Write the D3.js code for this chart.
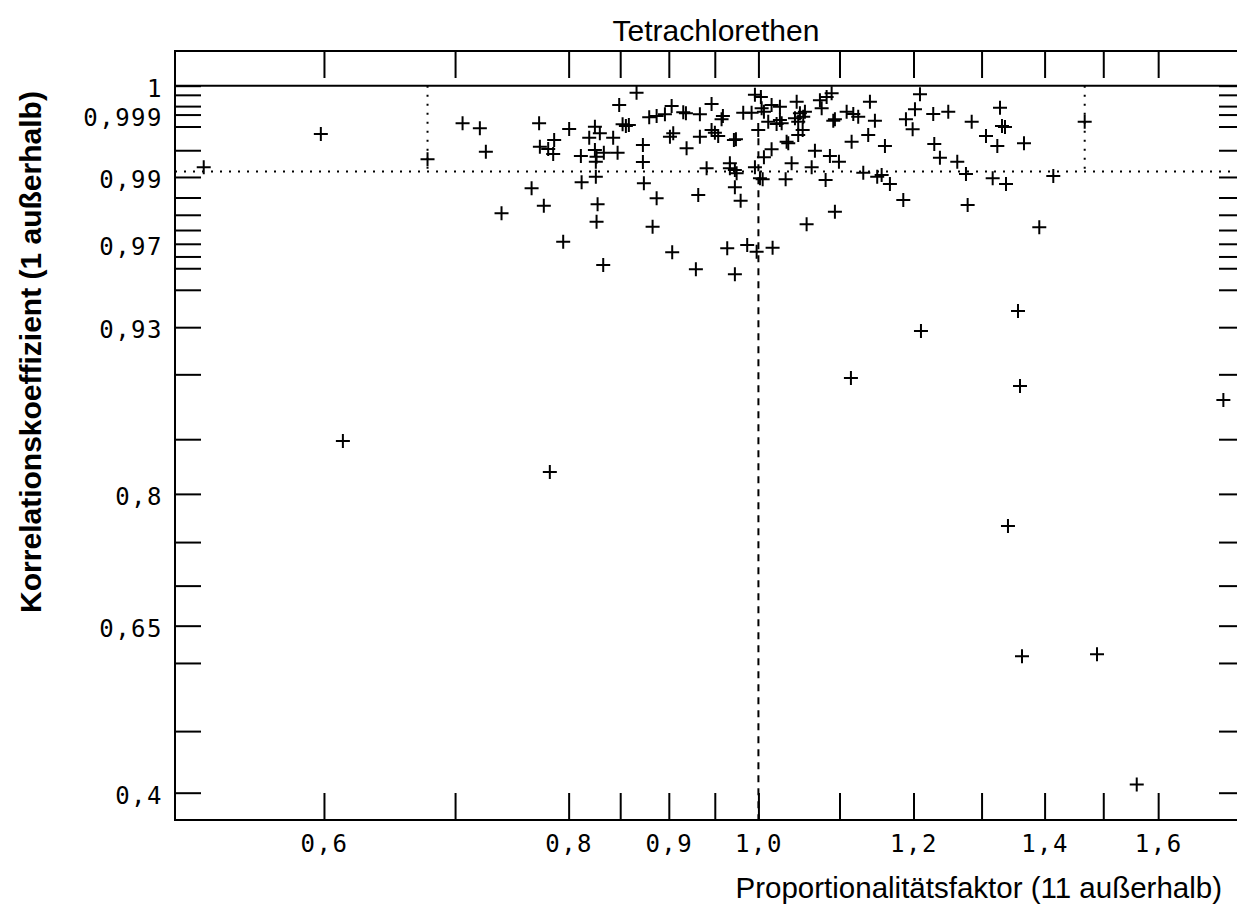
<!DOCTYPE html>
<html>
<head>
<meta charset="utf-8">
<script src="https://cdn.jsdelivr.net/npm/d3@7"></script>
<style>
  body { margin: 0; background: #fff; }
  svg { display: block; }
</style>
</head>
<body>
<div id="chart"></div>
<script>
// Tetrachlorethen: Korrelationskoeffizient gegen Proportionalitätsfaktor
// x logarithmisch, y als sqrt(1 - r) aufgetragen

const faktor = [
  0.8665, 0.8490, 0.7062, 0.7207, 0.7727, 0.8005, 0.8251, 0.8524, 0.8557, 0.8587,
  0.8299, 0.8196, 0.8430, 0.7865, 0.7734, 0.7810, 0.7856, 0.7258, 0.8251, 0.8338,
  0.8474, 0.8116, 0.8267, 0.8260, 0.6777, 0.8260, 0.8123, 0.7659, 0.7770, 0.7393,
  0.8277, 0.8267, 0.7949, 0.8332, 0.8730, 0.8730, 0.8740,
  0.9030, 0.9464, 0.8795, 0.8872, 0.8959, 0.9154, 0.9183, 0.9335, 0.9576, 0.9591,
  0.9823, 0.9920, 0.9959, 1.0029, 1.0038, 1.0065, 1.0156, 1.0256, 1.0116, 1.0256,
  1.0277, 1.0216, 1.0460, 1.0439, 1.0500, 1.0562, 1.0541, 1.0479, 1.0750, 1.0835,
  1.0899, 1.0772, 1.0920, 1.0941, 1.1093, 1.1180, 1.1245, 1.1401, 1.1468, 0.9012,
  0.9047, 0.9335, 0.9464, 0.9501, 0.9538, 0.9716, 0.9739, 0.9190, 0.9998, 1.0534,
  1.0479, 1.0337, 1.0357, 1.0156, 1.0065, 1.0687, 1.0877, 1.0993, 1.1158, 1.1378,
  0.9409, 0.9670, 0.9670, 0.9727, 0.9747, 0.9959, 1.0398, 1.0646, 1.0018, 1.0050,
  1.0325, 1.0822, 1.1312, 1.1499, 0.8872, 0.9317, 0.9727, 0.9793, 1.0941, 0.8830,
  1.0583, 0.9036, 0.9640, 0.9869, 0.9979, 1.0168, 0.9291, 0.9727,
  1.2092, 1.2021, 1.1894, 1.1988, 1.2282, 1.2501, 1.2850, 1.3285, 1.3316, 1.3363,
  1.3068, 1.3243, 1.3665, 1.4676, 1.1604, 1.2297, 1.2379, 1.2634, 1.1559, 1.1672,
  1.2764, 1.3171, 1.3379, 1.4144, 1.1857, 1.2789, 1.3913,
  0.5209, 0.5978, 0.6135, 0.7825, 1.1149, 1.2106, 1.3569, 1.3601, 1.3410, 1.3633,
  1.4890, 1.5602, 1.7275
]

const korrelation = [
  0.99994, 0.99955, 0.99830, 0.99782, 0.99830, 0.99775, 0.99798, 0.99821, 0.99805, 0.99815,
  0.99728, 0.99675, 0.99675, 0.99646, 0.99553, 0.99519, 0.99440, 0.99477, 0.99503, 0.99461,
  0.99461, 0.99406, 0.99395, 0.99306, 0.99349, 0.99005, 0.98879, 0.98736, 0.98271, 0.98044,
  0.98311, 0.97779, 0.97077, 0.96139, 0.99578, 0.99301, 0.98856,
  0.99951, 0.99960, 0.99880, 0.99890, 0.99902, 0.99915, 0.99909, 0.99902, 0.99864, 0.99890,
  0.99912, 0.99912, 0.99990, 0.99985, 0.99939, 0.99919, 0.99955, 0.99947, 0.99844, 0.99859,
  0.99830, 0.99824, 0.99969, 0.99872, 0.99909, 0.99919, 0.99885, 0.99844, 0.99975, 0.99985,
  0.99993, 0.99939, 0.99853, 0.99864, 0.99919, 0.99904, 0.99885, 0.99969, 0.99853, 0.99688,
  0.99728, 0.99688, 0.99764, 0.99735, 0.99696, 0.99646, 0.99655, 0.99529, 0.99764, 0.99764,
  0.99708, 0.99623, 0.99602, 0.99514, 0.99384, 0.99493, 0.99406, 0.99306, 0.99623, 0.99708,
  0.99181, 0.99277, 0.99181, 0.99147, 0.99078, 0.99200, 0.99277, 0.99200, 0.98970, 0.98948,
  0.98948, 0.98932, 0.99091, 0.99005, 0.98477, 0.98565, 0.98760, 0.98412, 0.98093, 0.97612,
  0.97693, 0.96667, 0.96825, 0.96952, 0.96691, 0.96848, 0.95952, 0.95728,
  0.99991, 0.99933, 0.99864, 0.99772, 0.99904, 0.99919, 0.99844, 0.99942, 0.99805, 0.99795,
  0.99696, 0.99563, 0.99602, 0.99844, 0.99563, 0.99592, 0.99377, 0.99306, 0.99042, 0.98840,
  0.99064, 0.98970, 0.98840, 0.99021, 0.98431, 0.98291, 0.97592,
  0.99200, 0.99720, 0.84839, 0.82078, 0.89739, 0.92773, 0.93904, 0.89169, 0.76717, 0.60938,
  0.61212, 0.41387, 0.88136
]

const xTicks = [0.6, 0.7, 0.8, 0.85, 0.9, 0.95, 1.0, 1.1, 1.2, 1.3, 1.4, 1.5, 1.6]
const xLabels = [0.6, 0.8, 0.9, 1.0, 1.2, 1.4, 1.6]
const yTicks = [1, 0.9999, 0.9995, 0.999, 0.998, 0.995, 0.99, 0.985, 0.98, 0.975, 0.97,
  0.965, 0.96, 0.95, 0.93, 0.9, 0.85, 0.8, 0.75, 0.7, 0.65, 0.6, 0.5, 0.4]
const yLabels = [1, 0.999, 0.99, 0.97, 0.93, 0.8, 0.65, 0.4]

// Hilfslinien
const fGrenzen = [0.6777, 1.4676]
const rGrenze = 0.99115
const fMitte = 1.0
const rMitteStart = 0.9967

const W = 1237, H = 911
const plotLeft = 175, plotRight = 1245, plotTop = 51, plotBottom = 820
const tickLen = 27
const monoFont = "DejaVu Sans Mono"
const sansFont = "Liberation Sans, Arial, sans-serif"

const x = d3.scaleLog().domain([0.5036, 1.772]).range([plotLeft, plotRight])
// y-Skala arbeitet auf 1 - r
const y = d3.scalePow().exponent(0.5).domain([0, 0.646]).range([85.7, 819.3])
const yr = (r) => y(1 - r)
const komma = (d) => String(d).replace(".", ",")

const svg = d3.select("#chart")
  .append("svg")
  .attr("width", W).attr("height", H)
  .style("background", "#fff")

// Rahmen
svg.append("rect")
  .attr("x", plotLeft).attr("y", plotTop)
  .attr("width", plotRight - plotLeft).attr("height", plotBottom - plotTop)
  .attr("fill", "none").attr("stroke", "#000").attr("stroke-width", 2)

// Linie bei r = 1
svg.append("line")
  .attr("x1", plotLeft).attr("x2", plotRight)
  .attr("y1", yr(1)).attr("y2", yr(1))
  .attr("stroke", "#000").attr("stroke-width", 2)

const styleAxis = (s) => {
  s.select(".domain").remove()
  s.selectAll(".tick line").attr("stroke", "#000").attr("stroke-width", 2)
  s.selectAll(".tick text")
    .attr("fill", "#000")
    .attr("font-family", monoFont)
    .attr("font-size", 24)
    .attr("letter-spacing", 1.5)
}

const isLabel = (list, v, fn) => list.some((l) => Math.abs(fn(l) - v) < 1e-9)

// y-Achse links mit Beschriftung
svg.append("g")
  .attr("transform", `translate(${plotLeft},0)`)
  .call(d3.axisLeft(y)
    .tickValues(yTicks.map((r) => 1 - r))
    .tickSize(-26).tickPadding(12)
    .tickFormat((d) => isLabel(yLabels, d, (l) => 1 - l) ? komma(+(1 - d).toFixed(4)) : ""))
  .call(styleAxis)
  .call((s) => s.selectAll(".tick text").attr("dy", "0.44em"))

// y-Achse rechts
svg.append("g")
  .attr("transform", `translate(${plotRight},0)`)
  .call(d3.axisRight(y)
    .tickValues(yTicks.map((r) => 1 - r))
    .tickSize(-26).tickFormat(""))
  .call(styleAxis)

// x-Achse unten mit Beschriftung
svg.append("g")
  .attr("transform", `translate(0,${plotBottom})`)
  .call(d3.axisBottom(x)
    .tickValues(xTicks)
    .tickSize(-tickLen).tickPadding(15)
    .tickFormat((d) => isLabel(xLabels, d, (l) => l) ? komma(d3.format(".1f")(d)) : ""))
  .call(styleAxis)

// x-Achse oben
svg.append("g")
  .attr("transform", `translate(0,${plotTop})`)
  .call(d3.axisTop(x).tickValues(xTicks).tickSize(-tickLen).tickFormat(""))
  .call(styleAxis)

// gepunktete Grenzen
svg.append("line")
  .attr("x1", plotLeft).attr("x2", plotRight)
  .attr("y1", yr(rGrenze)).attr("y2", yr(rGrenze))
  .attr("stroke", "#000").attr("stroke-width", 2).attr("stroke-dasharray", "2,7")

svg.selectAll("line.grenze")
  .data(fGrenzen)
  .join("line")
  .attr("class", "grenze")
  .attr("x1", (d) => x(d)).attr("x2", (d) => x(d))
  .attr("y1", yr(1)).attr("y2", yr(rGrenze))
  .attr("stroke", "#000").attr("stroke-width", 2).attr("stroke-dasharray", "2,7")

// gestrichelte Linie bei Faktor 1
svg.append("line")
  .attr("x1", x(fMitte)).attr("x2", x(fMitte))
  .attr("y1", yr(rMitteStart)).attr("y2", plotBottom)
  .attr("stroke", "#000").attr("stroke-width", 2).attr("stroke-dasharray", "7,6")

// Punkte als Kreuze
const punkte = faktor.map((f, i) => ({ f, r: korrelation[i] }))
svg.append("g")
  .selectAll("path.pt")
  .data(punkte)
  .join("path")
  .attr("class", "pt")
  .attr("transform", (p) => `translate(${x(p.f)},${yr(p.r)})`)
  .attr("d", "M-7,0H7M0,-7V7")
  .attr("stroke", "#000").attr("stroke-width", 2).attr("fill", "none")

// Titel und Achsentitel
svg.append("text")
  .attr("x", 716).attr("y", 41)
  .attr("text-anchor", "middle")
  .attr("font-family", sansFont).attr("font-size", 30)
  .text("Tetrachlorethen")

svg.append("text")
  .attr("x", 1222).attr("y", 898)
  .attr("text-anchor", "end")
  .attr("font-family", sansFont).attr("font-size", 29.5)
  .text("Proportionalitätsfaktor (11 außerhalb)")

svg.append("text")
  .attr("transform", "rotate(-90)")
  .attr("x", -352).attr("y", 41)
  .attr("text-anchor", "middle")
  .attr("font-family", sansFont).attr("font-size", 30).attr("font-weight", "bold")
  .text("Korrelationskoeffizient (1 außerhalb)")
</script>
</body>
</html>
